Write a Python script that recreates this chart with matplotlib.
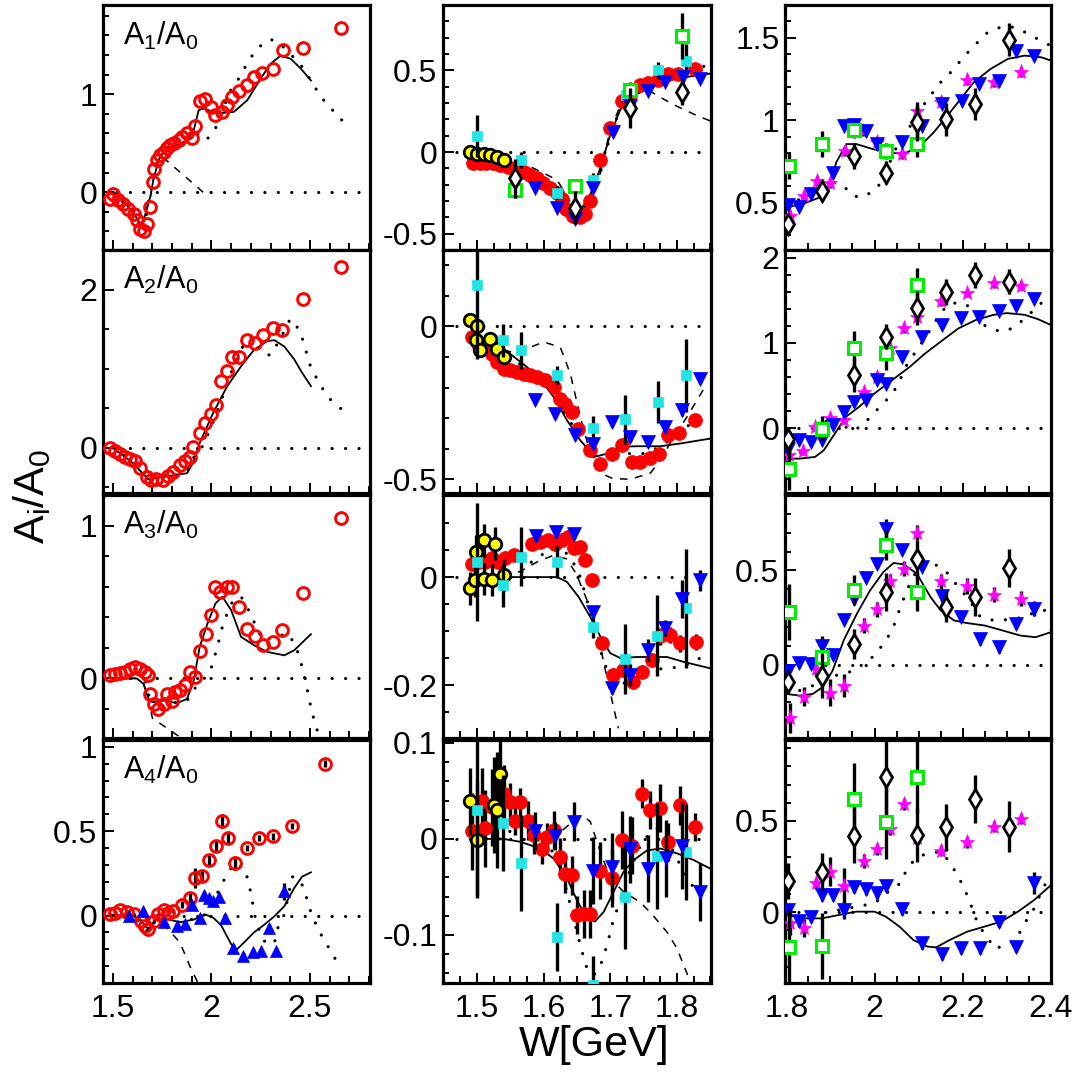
import numpy as np
import matplotlib
matplotlib.use('Agg')
import matplotlib.pyplot as plt
from matplotlib.ticker import MultipleLocator, FuncFormatter

plt.rcParams['font.family'] = ['Liberation Sans', 'DejaVu Sans']
plt.rcParams['mathtext.fontset'] = 'custom'
plt.rcParams['mathtext.rm'] = 'Liberation Sans'
plt.rcParams['mathtext.it'] = 'Liberation Sans:italic'
plt.rcParams['mathtext.default'] = 'regular'
plt.rcParams['axes.unicode_minus'] = False

# ---------------- column 1 (wide W range) ----------------
p11_ring_W = [1.485,1.502,1.527,1.553,1.578,1.604,1.621,1.638,1.655,1.672,1.689,1.702,1.706,1.723,1.740,1.757,1.774,1.791,1.808,1.833,1.850,1.876,1.902,1.918,1.940,1.969,1.995,2.020,2.055,2.080,2.106,2.139,2.182,2.216,2.259,2.310,2.361,2.463,2.658]
p11_ring_v = [-0.065,-0.014,-0.082,-0.116,-0.167,-0.218,-0.286,-0.371,-0.398,-0.320,-0.150,0.105,0.240,0.327,0.378,0.410,0.446,0.480,0.497,0.530,0.565,0.599,0.548,0.673,0.932,0.946,0.871,0.786,0.820,0.888,0.973,1.034,1.092,1.177,1.218,1.262,1.449,1.476,1.680]
p11_fit_W = [1.50,1.55,1.60,1.646,1.69,1.706,1.74,1.808,1.876,1.91,1.935,1.96,2.029,2.114,2.182,2.25,2.30,2.352,2.403,2.454,2.505]
p11_fit_v = [0.0,-0.08,-0.2,-0.35,-0.04,0.14,0.378,0.463,0.53,0.633,0.837,0.854,0.803,0.82,0.939,1.16,1.31,1.395,1.36,1.26,1.14]
p11_dot_W = [1.50,1.55,1.60,1.655,1.70,1.74,1.808,1.876,1.918,1.96,1.995,2.02,2.055,2.09,2.13,2.18,2.225,2.27,2.30,2.35,2.40,2.45,2.505,2.556,2.61,2.65,2.70]
p11_dot_v = [0.0,-0.1,-0.2,-0.4,0.14,0.38,0.46,0.53,0.62,0.53,0.565,0.65,0.82,1.02,1.13,1.31,1.45,1.53,1.56,1.51,1.41,1.31,1.14,0.97,0.85,0.75,0.69]
p11_dash_W = [1.50,1.55,1.60,1.646,1.69,1.706,1.74,1.86,1.98]
p11_dash_v = [0.0,-0.08,-0.2,-0.35,-0.04,0.14,0.378,0.17,-0.04]

p21_ring_W = [1.485,1.51,1.535,1.56,1.587,1.61,1.636,1.67,1.694,1.72,1.754,1.78,1.805,1.84,1.864,1.89,1.906,1.94,1.969,1.997,2.024,2.046,2.08,2.106,2.14,2.18,2.22,2.26,2.31,2.36,2.463,2.658]
p21_ring_v = [-0.004,-0.04,-0.08,-0.12,-0.14,-0.16,-0.26,-0.37,-0.41,-0.39,-0.41,-0.35,-0.31,-0.22,-0.16,-0.12,0.013,0.19,0.316,0.434,0.54,0.85,0.976,1.15,1.15,1.36,1.32,1.43,1.51,1.49,1.88,2.29]
p21_fit_W = [1.50,1.60,1.68,1.72,1.825,1.876,1.906,1.94,2.008,2.08,2.15,2.216,2.284,2.32,2.37,2.42,2.46,2.505]
p21_fit_v = [0.0,-0.19,-0.4,-0.38,-0.34,-0.32,-0.19,0.06,0.44,0.78,1.03,1.24,1.35,1.36,1.28,1.12,0.95,0.78]
p21_dot_W = [1.50,1.60,1.68,1.72,1.825,1.876,1.90,1.95,2.0,2.05,2.10,2.15,2.20,2.25,2.30,2.35,2.40,2.45,2.50,2.55,2.60,2.66]
p21_dot_v = [0.0,-0.17,-0.45,-0.38,-0.34,-0.29,-0.15,0.0,0.27,0.6,0.95,1.25,1.4,1.2,1.17,1.38,1.63,1.48,1.05,0.8,0.62,0.49]
p21_dash_W = [1.50,1.60,1.68]
p21_dash_v = [0.0,-0.19,-0.4]

p31_ring_W = [1.485,1.51,1.535,1.56,1.587,1.61,1.636,1.66,1.68,1.689,1.706,1.73,1.757,1.774,1.80,1.816,1.84,1.864,1.89,1.915,1.94,1.97,1.997,2.02,2.045,2.08,2.106,2.14,2.18,2.22,2.26,2.31,2.36,2.463,2.658]
p31_ring_v = [0.02,0.031,0.035,0.041,0.064,0.075,0.064,0.041,0.02,-0.1,-0.167,-0.2,-0.167,-0.1,-0.145,-0.09,-0.079,-0.046,0.041,0.009,0.18,0.29,0.414,0.6,0.568,0.6,0.6,0.465,0.32,0.276,0.217,0.239,0.316,0.557,1.05]
p31_fit_W = [1.50,1.62,1.655,1.68,1.70,1.757,1.825,1.876,1.91,1.94,1.98,2.02,2.055,2.10,2.15,2.216,2.284,2.37,2.42,2.505]
p31_fit_v = [0.0,0.0,-0.035,-0.134,-0.156,-0.145,-0.162,-0.134,-0.013,0.206,0.36,0.49,0.535,0.447,0.272,0.217,0.173,0.151,0.184,0.289]
p31_dot_W = [1.50,1.60,1.655,1.70,1.757,1.84,1.876,1.92,1.97,2.0,2.03,2.05,2.08,2.11,2.15,2.18,2.216,2.26,2.39,2.43,2.46,2.48,2.505,2.53,2.55,2.58]
p31_dot_v = [0.0,0.035,0.035,-0.21,-0.19,-0.145,-0.145,-0.057,0.009,0.075,0.206,0.316,0.425,0.513,0.535,0.469,0.37,0.25,0.294,0.206,0.075,-0.035,-0.19,-0.32,-0.375,-0.45]
p31_dash_W = [1.50,1.62,1.655,1.68,1.70,1.79,1.88]
p31_dash_v = [0.0,0.0,-0.035,-0.134,-0.26,-0.34,-0.42]

p41_ring_W = [1.485,1.51,1.535,1.57,1.605,1.64,1.66,1.68,1.706,1.73,1.757,1.78,1.805,1.85,1.89,1.915,1.95,1.985,2.024,2.055,2.085,2.12,2.18,2.24,2.31,2.41,2.576]
p41_ring_v = [0.006,0.016,0.035,0.02,0.006,-0.03,-0.06,-0.08,-0.03,0.006,0.035,0.016,0.026,0.065,0.104,0.223,0.233,0.33,0.41,0.56,0.46,0.31,0.40,0.46,0.47,0.53,0.90]
p41_ring_e = [0.01,0.01,0.01,0.01,0.01,0.01,0.01,0.01,0.01,0.01,0.01,0.01,0.01,0.02,0.03,0.06,0.03,0.03,0.03,0.04,0.03,0.04,0.02,0.02,0.02,0.02,0.02]
p41_tri_W = [1.58,1.65,1.757,1.825,1.864,1.90,1.94,1.96,1.985,2.01,2.04,2.07,2.11,2.16,2.21,2.25,2.29,2.33,2.37]
p41_tri_v = [-0.004,0.025,-0.04,-0.06,-0.05,0.065,-0.014,0.124,0.104,0.085,0.11,-0.014,-0.19,-0.24,-0.217,-0.21,-0.073,-0.21,0.144]
p41_tri_e = [0.02,0.02,0.02,0.02,0.02,0.02,0.02,0.02,0.02,0.02,0.02,0.02,0.02,0.02,0.02,0.02,0.02,0.02,0.05]
p41_fit_W = [1.50,1.60,1.64,1.68,1.72,1.77,1.84,1.91,1.97,2.01,2.05,2.10,2.13,2.165,2.216,2.27,2.32,2.37,2.42,2.46,2.505]
p41_fit_v = [0.0,0.0,-0.03,-0.08,-0.02,-0.02,-0.04,-0.024,0.006,-0.014,-0.06,-0.17,-0.2,-0.16,-0.10,-0.053,-0.004,0.055,0.163,0.23,0.256]
p41_dot_W = [1.50,1.60,1.68,1.72,1.84,1.91,1.97,2.04,2.08,2.12,2.17,2.20,2.22,2.25,2.28,2.32,2.34,2.37,2.41,2.45,2.47,2.51,2.55,2.59,2.63,2.68]
p41_dot_v = [0.0,0.0,-0.1,-0.02,-0.04,-0.02,0.006,0.154,0.25,0.31,0.28,0.134,0.0,-0.12,-0.17,-0.16,-0.06,0.006,0.23,0.21,0.154,0.0,-0.10,-0.18,-0.26,-0.30]
p41_dash_W = [1.50,1.60,1.64,1.68,1.72,1.77,1.84,1.89,1.94]
p41_dash_v = [0.0,0.0,-0.03,-0.08,-0.02,-0.07,-0.16,-0.30,-0.42]

# ---------------- column 2 (low W) ----------------
p12_red_W = [1.494,1.505,1.514,1.524,1.535,1.547,1.56,1.57,1.58,1.59,1.599,1.61,1.62,1.628,1.634,1.644,1.654,1.662,1.669,1.684,1.699,1.717,1.729,1.744,1.757,1.772,1.787,1.802,1.827]
p12_red_v = [-0.07,-0.07,-0.07,-0.07,-0.08,-0.09,-0.11,-0.12,-0.14,-0.16,-0.19,-0.22,-0.25,-0.29,-0.35,-0.39,-0.40,-0.38,-0.30,-0.05,0.145,0.31,0.35,0.41,0.42,0.44,0.48,0.48,0.51]
p12_yel_W = [1.49,1.50,1.51,1.52,1.53,1.54]
p12_yel_v = [0.0,-0.01,-0.01,-0.02,-0.03,-0.05]
p12_cyan_W = [1.50,1.566,1.62,1.674,1.724,1.771,1.814]
p12_cyan_v = [0.098,-0.05,-0.25,-0.17,0.35,0.50,0.56]
p12_cyan_e = [0.13,0.05,0.04,0.04,0.06,0.05,0.1]
p12_blue_W = [1.587,1.62,1.647,1.674,1.704,1.729,1.757,1.782,1.809,1.834]
p12_blue_v = [-0.22,-0.34,-0.41,-0.22,0.125,0.28,0.376,0.43,0.46,0.45]
p12_blue_e = [0.02,0.02,0.02,0.02,0.02,0.02,0.02,0.02,0.02,0.02]
p12_green_W = [1.557,1.647,1.729,1.808]
p12_green_v = [-0.23,-0.21,0.38,0.71]
p12_green_e = [0.05,0.04,0.05,0.14]
p12_diam_W = [1.557,1.647,1.729,1.808]
p12_diam_v = [-0.16,-0.34,0.27,0.37]
p12_diam_e = [0.12,0.1,0.12,0.08]
p12_fit_W = [1.494,1.524,1.56,1.594,1.624,1.644,1.654,1.669,1.684,1.699,1.715,1.729,1.75,1.775,1.80,1.825,1.85]
p12_fit_v = [-0.008,-0.05,-0.10,-0.17,-0.29,-0.376,-0.366,-0.27,-0.11,0.094,0.26,0.33,0.38,0.42,0.45,0.466,0.48]
p12_dot_W = [1.494,1.524,1.56,1.60,1.62,1.644,1.66,1.684,1.704,1.724,1.744,1.775,1.80,1.825,1.85]
p12_dot_v = [-0.01,-0.05,-0.10,-0.20,-0.27,-0.38,-0.36,-0.14,0.16,0.33,0.40,0.44,0.47,0.50,0.54]
p12_dash_W = [1.54,1.57,1.62,1.645,1.66,1.685,1.70,1.72,1.757,1.777,1.80,1.826,1.85]
p12_dash_v = [-0.02,-0.07,-0.17,-0.34,-0.34,-0.13,0.14,0.33,0.38,0.33,0.28,0.23,0.19]

p22_red_W = [1.492,1.502,1.512,1.522,1.53,1.54,1.55,1.56,1.57,1.58,1.59,1.602,1.615,1.625,1.632,1.642,1.652,1.669,1.684,1.702,1.717,1.732,1.744,1.759,1.773,1.787,1.803,1.827]
p22_red_v = [-0.035,-0.057,-0.068,-0.089,-0.117,-0.138,-0.144,-0.149,-0.155,-0.16,-0.166,-0.176,-0.198,-0.236,-0.253,-0.28,-0.334,-0.405,-0.449,-0.416,-0.389,-0.443,-0.443,-0.432,-0.416,-0.356,-0.35,-0.305]
p22_yel_W = [1.49,1.50,1.498,1.505,1.52,1.53,1.54]
p22_yel_v = [0.02,0.0,-0.046,-0.078,-0.04,-0.073,-0.1]
p22_cyan_W = [1.50,1.539,1.566,1.62,1.674,1.722,1.771,1.814]
p22_cyan_v = [0.134,-0.046,-0.078,-0.158,-0.332,-0.304,-0.247,-0.16]
p22_cyan_e = [0.24,0.055,0.06,0.03,0.04,0.08,0.07,0.12]
p22_blue_W = [1.587,1.617,1.647,1.674,1.703,1.73,1.757,1.782,1.808,1.834]
p22_blue_v = [-0.24,-0.285,-0.356,-0.386,-0.313,-0.362,-0.378,-0.329,-0.272,-0.171]
p22_blue_e = [0.015,0.015,0.015,0.015,0.015,0.015,0.015,0.015,0.02,0.015]
p22_fit_W = [1.494,1.54,1.575,1.60,1.615,1.635,1.655,1.67,1.68,1.695,1.715,1.74,1.775,1.805,1.85]
p22_fit_v = [-0.029,-0.073,-0.133,-0.187,-0.231,-0.307,-0.373,-0.41,-0.425,-0.416,-0.394,-0.392,-0.392,-0.383,-0.367]
p22_dot_W = [1.494,1.54,1.575,1.605,1.625,1.645,1.665,1.685,1.705,1.725,1.75,1.775,1.795,1.815,1.845]
p22_dot_v = [-0.035,-0.089,-0.138,-0.187,-0.264,-0.329,-0.40,-0.449,-0.427,-0.416,-0.416,-0.394,-0.362,-0.329,-0.264]
p22_dash_W = [1.54,1.563,1.58,1.60,1.625,1.64,1.655,1.67,1.685,1.704,1.73,1.76,1.775,1.795,1.815,1.845]
p22_dash_v = [-0.078,-0.089,-0.068,-0.051,-0.068,-0.155,-0.296,-0.416,-0.48,-0.498,-0.5,-0.48,-0.438,-0.362,-0.296,-0.187]

p32_red_W = [1.492,1.502,1.512,1.522,1.532,1.542,1.555,1.582,1.595,1.607,1.617,1.627,1.637,1.645,1.655,1.662,1.672,1.687,1.704,1.719,1.734,1.748,1.762,1.775,1.789,1.805,1.829]
p32_red_v = [0.025,0.028,0.028,0.035,0.028,0.035,0.041,0.062,0.065,0.068,0.062,0.068,0.075,0.053,0.056,0.031,-0.006,-0.123,-0.181,-0.172,-0.194,-0.175,-0.154,-0.11,-0.107,-0.123,-0.12]
p32_red_e = [0.01,0.01,0.01,0.01,0.01,0.01,0.01,0.01,0.01,0.01,0.01,0.01,0.01,0.01,0.01,0.01,0.01,0.01,0.012,0.012,0.012,0.012,0.012,0.015,0.015,0.015,0.015]
p32_yel_W = [1.49,1.497,1.499,1.51,1.51,1.522,1.527,1.54]
p32_yel_v = [-0.021,-0.006,0.047,0.068,-0.004,-0.005,0.062,0.004]
p32_yel_e = [0.03,0.03,0.03,0.03,0.03,0.03,0.03,0.03]
p32_cyan_W = [1.50,1.539,1.566,1.62,1.674,1.722,1.77,1.814]
p32_cyan_v = [0.028,-0.015,0.038,0.028,-0.092,-0.151,-0.109,-0.058]
p32_cyan_e = [0.11,0.04,0.055,0.03,0.02,0.065,0.075,0.11]
p32_blue_W = [1.588,1.618,1.646,1.674,1.702,1.73,1.757,1.782,1.808,1.834]
p32_blue_v = [0.076,0.084,0.08,-0.064,-0.206,-0.181,-0.135,-0.095,-0.04,-0.006]
p32_blue_e = [0.01,0.01,0.01,0.01,0.01,0.02,0.02,0.015,0.035,0.02]
p32_fit_W = [1.49,1.62,1.635,1.652,1.67,1.685,1.70,1.715,1.74,1.765,1.785,1.81,1.85]
p32_fit_v = [0.0,0.0,-0.009,-0.036,-0.074,-0.11,-0.141,-0.15,-0.148,-0.148,-0.148,-0.157,-0.169]
p32_dot_W = [1.49,1.56,1.584,1.605,1.625,1.64,1.655,1.665,1.675,1.685,1.695,1.709,1.724,1.739,1.759,1.784,1.809,1.829,1.847]
p32_dot_v = [0.0,0.0,0.031,0.047,0.053,0.038,0.0,-0.043,-0.098,-0.135,-0.172,-0.194,-0.197,-0.185,-0.172,-0.169,-0.166,-0.154,-0.141]
p32_dash_W = [1.539,1.564,1.59,1.614,1.634,1.649,1.669,1.684,1.699,1.712]
p32_dash_v = [0.003,0.01,0.028,0.04,0.034,0.006,-0.055,-0.123,-0.209,-0.28]

p42_red_W = [1.492,1.507,1.512,1.522,1.54,1.55,1.557,1.565,1.577,1.585,1.597,1.605,1.615,1.625,1.632,1.643,1.65,1.66,1.67,1.685,1.702,1.717,1.732,1.747,1.76,1.775,1.787,1.804,1.827]
p42_red_v = [0.008,0.039,0.011,0.033,0.047,0.038,0.019,0.038,0.019,0.0045,-0.011,0.002,0.009,-0.019,-0.036,-0.038,-0.079,-0.078,-0.078,-0.033,-0.041,-0.001,-0.007,0.047,0.03,0.032,-0.003,0.035,0.0125]
p42_red_e = [0.04,0.035,0.04,0.04,0.03,0.02,0.015,0.015,0.02,0.02,0.015,0.015,0.02,0.02,0.02,0.02,0.02,0.025,0.025,0.03,0.03,0.03,0.03,0.015,0.02,0.025,0.02,0.02,0.015]
p42_yel_W = [1.49,1.50,1.525,1.53,1.535]
p42_yel_v = [0.039,-0.001,0.035,0.03,0.068]
p42_yel_e = [0.035,0.06,0.05,0.06,0.04]
p42_cyan_W = [1.50,1.539,1.566,1.62,1.674,1.722,1.77,1.814]
p42_cyan_v = [0.0306,0.017,-0.025,-0.102,-0.152,-0.06,-0.018,-0.0135]
p42_cyan_e = [0.09,0.05,0.05,0.035,0.03,0.055,0.055,0.05]
p42_blue_W = [1.587,1.617,1.646,1.674,1.702,1.73,1.757,1.784,1.808,1.834]
p42_blue_v = [0.008,0.003,0.018,-0.033,-0.029,-0.011,-0.031,-0.02,-0.007,-0.055]
p42_blue_e = [0.02,0.015,0.02,0.035,0.035,0.035,0.035,0.04,0.045,0.03]
p42_fit_W = [1.494,1.54,1.565,1.595,1.615,1.635,1.65,1.665,1.677,1.69,1.705,1.72,1.735,1.755,1.775,1.80,1.825,1.85]
p42_fit_v = [0.0,0.0,-0.003,-0.01,-0.0205,-0.041,-0.064,-0.083,-0.086,-0.076,-0.055,-0.034,-0.022,-0.012,-0.01,-0.015,-0.022,-0.031]
p42_dot_W = [1.494,1.54,1.555,1.58,1.60,1.62,1.635,1.645,1.655,1.665,1.675,1.685,1.695,1.705,1.72,1.73,1.745,1.76,1.77,1.785,1.80,1.815,1.83,1.85]
p42_dot_v = [0.0,0.0,0.0125,0.01,0.0,-0.02,-0.055,-0.083,-0.111,-0.135,-0.142,-0.132,-0.111,-0.083,-0.055,-0.031,-0.007,0.007,0.011,0.0,-0.0205,-0.041,-0.055,-0.067]
p42_dash_W = [1.585,1.625,1.645,1.657,1.67,1.685,1.70,1.72,1.745,1.762,1.785,1.80,1.812,1.822]
p42_dash_v = [0.002,0.007,0.019,0.025,0.018,-0.0135,-0.041,-0.055,-0.066,-0.078,-0.097,-0.114,-0.135,-0.152]

# ---------------- column 3 (high W) ----------------
p13_blue_W = [1.803,1.828,1.856,1.881,1.906,1.93,1.953,1.98,2.005,2.062,2.107,2.153,2.199,2.237,2.283,2.32,2.362]
p13_blue_v = [0.482,0.474,0.549,0.538,0.681,0.965,0.97,0.935,0.854,0.864,0.965,1.098,1.118,1.22,1.24,1.42,1.39]
p13_blue_e = [0.02]*17
p13_star_W = [1.808,1.839,1.869,1.90,1.932,1.974,2.005,2.062,2.096,2.151,2.21,2.271,2.332]
p13_star_v = [0.416,0.538,0.63,0.62,0.813,0.935,0.864,0.793,1.057,1.112,1.244,1.23,1.29]
p13_star_e = [0.03]*13
p13_green_W = [1.805,1.881,1.954,2.026,2.096]
p13_green_v = [0.721,0.854,0.939,0.813,0.854]
p13_green_e = [0.08,0.08,0.05,0.05,0.08]
p13_diam_W = [1.804,1.881,1.954,2.026,2.096,2.163,2.228,2.305]
p13_diam_v = [0.366,0.57,0.783,0.68,0.99,1.006,1.098,1.49]
p13_diam_e = [0.05,0.05,0.08,0.07,0.12,0.1,0.1,0.1]
p13_fit_W = [1.80,1.845,1.875,1.898,1.913,1.936,1.959,1.997,2.043,2.073,2.104,2.134,2.165,2.195,2.225,2.263,2.302,2.34,2.378,2.40]
p13_fit_v = [0.467,0.498,0.529,0.60,0.742,0.854,0.854,0.823,0.799,0.803,0.844,0.925,1.026,1.128,1.23,1.311,1.372,1.392,1.382,1.362]
p13_dot_W = [1.80,1.84,1.88,1.91,1.93,1.95,1.97,2.0,2.02,2.04,2.06,2.08,2.10,2.127,2.15,2.18,2.20,2.225,2.255,2.28,2.30,2.325,2.35,2.38,2.40]
p13_dot_v = [0.48,0.53,0.60,0.62,0.60,0.54,0.53,0.57,0.64,0.78,0.89,0.96,1.05,1.15,1.23,1.31,1.38,1.45,1.53,1.56,1.57,1.56,1.52,1.48,1.45]

p23_blue_W = [1.803,1.829,1.856,1.881,1.906,1.93,1.953,1.98,2.005,2.027,2.062,2.107,2.153,2.196,2.236,2.282,2.32,2.362]
p23_blue_v = [-0.239,-0.141,-0.16,-0.141,0.035,0.192,0.31,0.33,0.57,0.518,0.839,1.075,1.21,1.29,1.31,1.38,1.43,1.51]
p23_blue_e = [0.03]*18
p23_star_W = [1.806,1.837,1.865,1.90,1.93,1.975,2.005,2.036,2.066,2.096,2.151,2.21,2.271,2.332]
p23_star_v = [-0.318,-0.267,0.016,0.114,0.102,0.427,0.604,0.937,1.17,1.31,1.486,1.584,1.70,1.67]
p23_star_e = [0.05]*14
p23_green_W = [1.805,1.881,1.954,2.026,2.096]
p23_green_v = [-0.475,-0.004,0.937,0.886,1.68]
p23_green_e = [0.25,0.15,0.2,0.2,0.2]
p23_diam_W = [1.803,1.954,2.026,2.096,2.163,2.228,2.305]
p23_diam_v = [-0.122,0.62,1.075,1.41,1.60,1.80,1.72]
p23_diam_e = [0.12,0.2,0.15,0.2,0.15,0.15,0.15]
p23_fit_W = [1.80,1.83,1.865,1.885,1.91,1.935,1.965,2.0,2.04,2.08,2.115,2.155,2.19,2.23,2.27,2.30,2.34,2.37,2.40]
p23_fit_v = [-0.357,-0.357,-0.337,-0.259,-0.063,0.133,0.251,0.408,0.565,0.72,0.878,1.035,1.17,1.27,1.33,1.35,1.33,1.28,1.21]
p23_dot_W = [1.803,1.829,1.859,1.881,1.90,1.925,1.947,1.97,2.005,2.027,2.043,2.054,2.073,2.096,2.119,2.145,2.165,2.18,2.202,2.225,2.248,2.27,2.293,2.312,2.332,2.362,2.378,2.397]
p23_dot_v = [-0.30,-0.30,-0.141,0.016,0.15,0.05,-0.03,0.02,0.212,0.33,0.427,0.525,0.741,0.918,1.094,1.31,1.447,1.467,1.467,1.388,1.21,1.153,1.133,1.173,1.251,1.388,1.467,1.545]

p33_blue_W = [1.803,1.829,1.856,1.881,1.906,1.93,1.953,1.98,2.005,2.027,2.062,2.107,2.153,2.196,2.238,2.283,2.321,2.362]
p33_blue_v = [-0.032,0.007,0.0035,0.10,0.048,0.234,0.349,0.461,0.532,0.72,0.61,0.52,0.362,0.252,0.133,0.092,0.216,0.296]
p33_blue_e = [0.02,0.02,0.02,0.05,0.02,0.02,0.02,0.02,0.02,0.05,0.02,0.02,0.03,0.02,0.03,0.03,0.03,0.04]
p33_star_W = [1.808,1.84,1.868,1.90,1.93,1.975,2.005,2.036,2.066,2.096,2.151,2.21,2.271,2.332]
p33_star_v = [-0.285,-0.17,-0.023,-0.149,-0.112,0.207,0.293,0.443,0.509,0.70,0.443,0.417,0.37,0.349]
p33_star_e = [0.08,0.05,0.04,0.07,0.06,0.04,0.04,0.04,0.04,0.04,0.04,0.04,0.04,0.04]
p33_green_W = [1.805,1.881,1.954,2.026,2.096]
p33_green_v = [0.278,0.039,0.394,0.636,0.385]
p33_green_e = [0.15,0.05,0.08,0.08,0.1]
p33_diam_W = [1.803,1.881,1.954,2.026,2.096,2.163,2.228,2.305]
p33_diam_v = [-0.094,-0.059,0.11,0.385,0.559,0.305,0.358,0.514]
p33_diam_e = [0.06,0.12,0.08,0.1,0.1,0.08,0.1,0.1]
p33_fit_W = [1.80,1.83,1.86,1.882,1.905,1.93,1.96,1.99,2.02,2.043,2.066,2.096,2.127,2.15,2.18,2.21,2.25,2.29,2.33,2.365,2.40]
p33_fit_v = [-0.156,-0.165,-0.156,-0.12,-0.032,0.128,0.27,0.394,0.491,0.539,0.532,0.482,0.358,0.287,0.234,0.22,0.207,0.181,0.154,0.145,0.172]
p33_dot_W = [1.80,1.83,1.86,1.89,1.93,1.953,1.975,2.0,2.02,2.04,2.06,2.08,2.10,2.12,2.14,2.163,2.19,2.21,2.24,2.27,2.30,2.33,2.36,2.40]
p33_dot_v = [-0.138,-0.138,-0.112,-0.067,-0.05,-0.032,0.004,0.048,0.11,0.181,0.314,0.429,0.518,0.535,0.527,0.491,0.411,0.358,0.252,0.234,0.238,0.248,0.273,0.296]

p43_blue_W = [1.803,1.829,1.856,1.881,1.906,1.93,1.953,1.98,2.005,2.027,2.062,2.107,2.153,2.196,2.238,2.283,2.321,2.362]
p43_blue_v = [0.011,-0.048,-0.026,0.093,0.093,0.011,0.136,0.125,0.103,0.143,0.015,-0.172,-0.231,-0.20,-0.20,-0.053,-0.19,0.161]
p43_blue_e = [0.03,0.03,0.03,0.03,0.03,0.05,0.03,0.03,0.03,0.03,0.03,0.03,0.03,0.03,0.03,0.03,0.03,0.06]
p43_star_W = [1.808,1.84,1.868,1.90,1.93,1.975,2.005,2.036,2.066,2.096,2.151,2.21,2.271,2.332]
p43_star_v = [-0.059,-0.09,0.158,0.222,0.143,0.28,0.344,0.454,0.593,0.405,0.337,0.383,0.469,0.511]
p43_star_e = [0.07,0.05,0.03,0.08,0.1,0.04,0.03,0.03,0.03,0.03,0.03,0.03,0.03,0.03]
p43_green_W = [1.805,1.881,1.954,2.026,2.096]
p43_green_v = [-0.19,-0.187,0.619,0.493,0.743]
p43_green_e = [0.2,0.18,0.2,0.2,0.2]
p43_diam_W = [1.803,1.881,1.954,2.026,2.096,2.163,2.228,2.305]
p43_diam_v = [0.172,0.222,0.42,0.74,0.423,0.465,0.621,0.469]
p43_diam_e = [0.1,0.1,0.15,0.2,0.15,0.13,0.13,0.14]
p43_fit_W = [1.80,1.845,1.88,1.92,1.958,2.0,2.026,2.057,2.088,2.12,2.14,2.17,2.21,2.248,2.287,2.325,2.362,2.40]
p43_fit_v = [-0.016,-0.035,-0.035,-0.016,0.002,0.002,-0.026,-0.081,-0.154,-0.19,-0.194,-0.154,-0.108,-0.081,-0.053,0.002,0.066,0.148]
p43_dot_W = [1.80,1.83,1.87,1.92,2.0,2.045,2.06,2.075,2.10,2.12,2.15,2.17,2.19,2.205,2.22,2.235,2.26,2.27,2.29,2.32,2.34,2.36,2.38,2.40]
p43_dot_v = [0.002,-0.026,-0.01,0.011,0.048,0.139,0.158,0.249,0.304,0.322,0.331,0.276,0.194,0.121,0.029,-0.071,-0.154,-0.2,-0.19,-0.154,-0.062,0.011,0.121,0.212]

panel_labels = ['A$_1$/A$_0$', 'A$_2$/A$_0$', 'A$_3$/A$_0$', 'A$_4$/A$_0$']

# ---------------- styles ----------------
RED = '#ff0000'
STY = {
    'ring': dict(marker='o', ms=8.5, mfc='none', mec=RED, mew=2.1),
    'red': dict(marker='o', ms=10, mfc=RED, mec=RED, mew=0.5),
    'yel': dict(marker='o', ms=9, mfc='#ffff00', mec='black', mew=2.0),
    'cyan': dict(marker='s', ms=7, mfc='#22e4e4', mec='#22e4e4', mew=0.5),
    'blue': dict(marker='v', ms=9.5, mfc='#0000ff', mec='#0000ff', mew=0.5),
    'blueup': dict(marker='^', ms=9, mfc='#0000ff', mec='#0000ff', mew=0.5),
    'green': dict(marker='s', ms=8, mfc='white', mec='#00ee00', mew=2.2),
    'diam': dict(marker='d', ms=10, mfc='white', mec='black', mew=2.0),
    'star': dict(marker='*', ms=11, mfc='#ff00ff', mec='#ff00ff', mew=0.5),
}

def S(kind, W, v, e=None):
    return (kind, W, v, e)

panels = {
    (0, 0): dict(ylim=(-0.59, 1.91), maj=1, mnr=0.2,
                 series=[S('ring', p11_ring_W, p11_ring_v)],
                 fit=(p11_fit_W, p11_fit_v), dot=(p11_dot_W, p11_dot_v), dash=(p11_dash_W, p11_dash_v)),
    (1, 0): dict(ylim=(-0.57, 2.5), maj=2, mnr=0.5,
                 series=[S('ring', p21_ring_W, p21_ring_v)],
                 fit=(p21_fit_W, p21_fit_v), dot=(p21_dot_W, p21_dot_v), dash=(p21_dash_W, p21_dash_v)),
    (2, 0): dict(ylim=(-0.39, 1.2), maj=1, mnr=0.2,
                 series=[S('ring', p31_ring_W, p31_ring_v)],
                 fit=(p31_fit_W, p31_fit_v), dot=(p31_dot_W, p31_dot_v), dash=(p31_dash_W, p31_dash_v)),
    (3, 0): dict(ylim=(-0.40, 1.04), maj=0.5, mnr=0.1,
                 series=[S('ring', p41_ring_W, p41_ring_v, p41_ring_e),
                         S('blueup', p41_tri_W, p41_tri_v, p41_tri_e)],
                 fit=(p41_fit_W, p41_fit_v), dot=(p41_dot_W, p41_dot_v), dash=(p41_dash_W, p41_dash_v)),
    (0, 1): dict(ylim=(-0.60, 0.90), maj=0.5, mnr=0.1,
                 series=[S('red', p12_red_W, p12_red_v), S('yel', p12_yel_W, p12_yel_v),
                         S('cyan', p12_cyan_W, p12_cyan_v, p12_cyan_e), S('blue', p12_blue_W, p12_blue_v, p12_blue_e),
                         S('green', p12_green_W, p12_green_v, p12_green_e), S('diam', p12_diam_W, p12_diam_v, p12_diam_e)],
                 fit=(p12_fit_W, p12_fit_v), dot=(p12_dot_W, p12_dot_v), dash=(p12_dash_W, p12_dash_v)),
    (1, 1): dict(ylim=(-0.545, 0.25), maj=0.5, mnr=0.1,
                 series=[S('red', p22_red_W, p22_red_v), S('yel', p22_yel_W, p22_yel_v),
                         S('cyan', p22_cyan_W, p22_cyan_v, p22_cyan_e), S('blue', p22_blue_W, p22_blue_v, p22_blue_e)],
                 fit=(p22_fit_W, p22_fit_v), dot=(p22_dot_W, p22_dot_v), dash=(p22_dash_W, p22_dash_v)),
    (2, 1): dict(ylim=(-0.298, 0.152), maj=0.2, mnr=0.05,
                 series=[S('red', p32_red_W, p32_red_v, p32_red_e), S('yel', p32_yel_W, p32_yel_v, p32_yel_e),
                         S('cyan', p32_cyan_W, p32_cyan_v, p32_cyan_e), S('blue', p32_blue_W, p32_blue_v, p32_blue_e)],
                 fit=(p32_fit_W, p32_fit_v), dot=(p32_dot_W, p32_dot_v), dash=(p32_dash_W, p32_dash_v)),
    (3, 1): dict(ylim=(-0.15, 0.103), maj=0.1, mnr=0.02,
                 series=[S('red', p42_red_W, p42_red_v, p42_red_e), S('yel', p42_yel_W, p42_yel_v, p42_yel_e),
                         S('cyan', p42_cyan_W, p42_cyan_v, p42_cyan_e), S('blue', p42_blue_W, p42_blue_v, p42_blue_e)],
                 fit=(p42_fit_W, p42_fit_v), dot=(p42_dot_W, p42_dot_v), dash=(p42_dash_W, p42_dash_v)),
    (0, 2): dict(ylim=(0.21, 1.70), maj=0.5, mnr=0.1,
                 series=[S('star', p13_star_W, p13_star_v, p13_star_e), S('blue', p13_blue_W, p13_blue_v, p13_blue_e),
                         S('green', p13_green_W, p13_green_v, p13_green_e), S('diam', p13_diam_W, p13_diam_v, p13_diam_e)],
                 fit=(p13_fit_W, p13_fit_v), dot=(p13_dot_W, p13_dot_v), dash=None),
    (1, 2): dict(ylim=(-0.76, 2.09), maj=1, mnr=0.2,
                 series=[S('star', p23_star_W, p23_star_v, p23_star_e), S('blue', p23_blue_W, p23_blue_v, p23_blue_e),
                         S('green', p23_green_W, p23_green_v, p23_green_e), S('diam', p23_diam_W, p23_diam_v, p23_diam_e)],
                 fit=(p23_fit_W, p23_fit_v), dot=(p23_dot_W, p23_dot_v), dash=None),
    (2, 2): dict(ylim=(-0.39, 0.9), maj=0.5, mnr=0.1,
                 series=[S('star', p33_star_W, p33_star_v, p33_star_e), S('blue', p33_blue_W, p33_blue_v, p33_blue_e),
                         S('green', p33_green_W, p33_green_v, p33_green_e), S('diam', p33_diam_W, p33_diam_v, p33_diam_e)],
                 fit=(p33_fit_W, p33_fit_v), dot=(p33_dot_W, p33_dot_v), dash=None),
    (3, 2): dict(ylim=(-0.39, 0.945), maj=0.5, mnr=0.1,
                 series=[S('star', p43_star_W, p43_star_v, p43_star_e), S('blue', p43_blue_W, p43_blue_v, p43_blue_e),
                         S('green', p43_green_W, p43_green_v, p43_green_e), S('diam', p43_diam_W, p43_diam_v, p43_diam_e)],
                 fit=(p43_fit_W, p43_fit_v), dot=(p43_dot_W, p43_dot_v), dash=None),
}

col_xlim = [(1.449, 2.805), (1.449, 1.851), (1.797, 2.4)]
col_xmaj = [0.5, 0.1, 0.2]
col_xmnr = [0.1, 0.025, 0.05]

W_PX, H_PX = 1080, 1072
col_px = [(103, 370), (443, 711), (785, 1051)]
row_px = [(5, 250), (250, 493), (495, 738), (740, 983)]

fig = plt.figure(figsize=(W_PX / 100, H_PX / 100), dpi=100)

def fmt(v, pos):
    if abs(v) < 1e-9:
        return '0'
    return '%g' % round(v, 6)

DOT = (0, (0.01, 4.2))
for (r, c), P in panels.items():
    x0, x1 = col_px[c]
    y0, y1 = row_px[r]
    ax = fig.add_axes([x0 / W_PX, 1 - y1 / H_PX, (x1 - x0) / W_PX, (y1 - y0) / H_PX])
    ax.set_xlim(*col_xlim[c])
    ax.set_ylim(*P['ylim'])
    ax.plot(col_xlim[c], [0, 0], color='black', lw=2.3, ls=DOT, dash_capstyle='round', zorder=1)
    ax.plot(P['fit'][0], P['fit'][1], color='black', lw=1.3, zorder=2)
    ax.plot(P['dot'][0], P['dot'][1], color='black', lw=2.3, ls=DOT, dash_capstyle='round', zorder=2)
    if P['dash'] is not None:
        ax.plot(P['dash'][0], P['dash'][1], color='black', lw=1.1, ls=(0, (5, 5)), zorder=2)
    z = 3
    for kind, W, v, e in P['series']:
        if e is not None:
            ax.errorbar(W, v, yerr=e, fmt='none', ecolor='black', elinewidth=2.4, capsize=0, zorder=z)
        ax.plot(W, v, ls='none', zorder=z + 0.5, **STY[kind])
        z += 1
    ax.xaxis.set_major_locator(MultipleLocator(col_xmaj[c]))
    ax.xaxis.set_minor_locator(MultipleLocator(col_xmnr[c]))
    ax.yaxis.set_major_locator(MultipleLocator(P['maj']))
    ax.yaxis.set_minor_locator(MultipleLocator(P['mnr']))
    ax.yaxis.set_major_formatter(FuncFormatter(fmt))
    if r == 3:
        ax.xaxis.set_major_formatter(FuncFormatter(fmt))
    else:
        ax.set_xticklabels([])
    ax.tick_params(axis='both', which='both', direction='in', top=False, right=False, width=1.4)
    ax.tick_params(axis='y', which='major', length=8, labelsize=23, pad=4)
    ax.tick_params(axis='y', which='minor', length=4.5)
    ax.tick_params(axis='x', which='major', length=7, labelsize=23, pad=8)
    ax.tick_params(axis='x', which='minor', length=5)
    for sp in ax.spines.values():
        sp.set_linewidth(2.3)
    if c == 0:
        ax.text(0.075, 0.875, panel_labels[r], transform=ax.transAxes, fontsize=22,
                ha='left', va='center', zorder=10)

fig.text(0.03, 0.537, 'A$_i$/A$_0$', rotation=90, fontsize=31, ha='center', va='center')
fig.text(0.55, 0.025, 'W[GeV]', fontsize=31, ha='center', va='center')

fig.savefig('out.png', dpi=100)
